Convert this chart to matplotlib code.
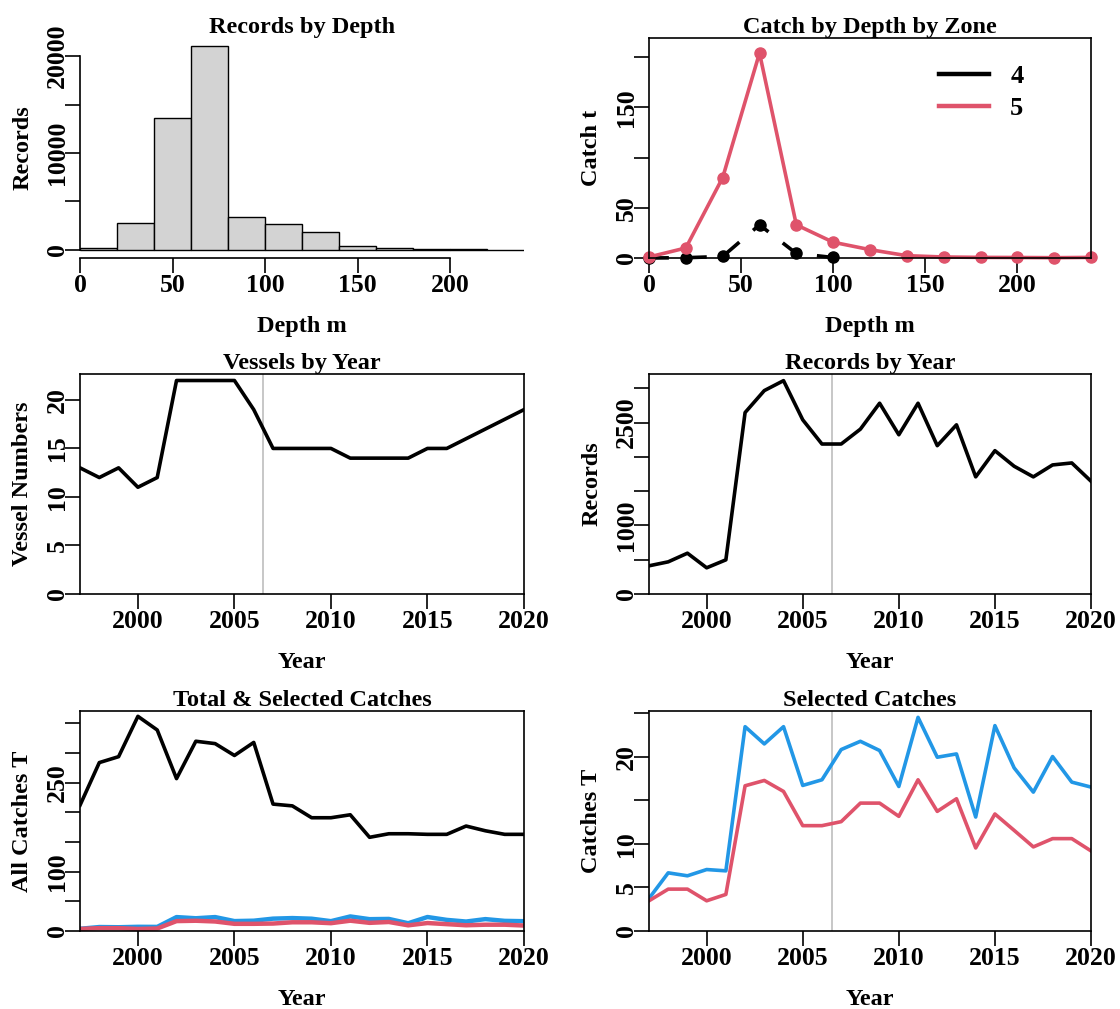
import matplotlib
matplotlib.use("Agg")
import matplotlib.pyplot as plt
from matplotlib.lines import Line2D
import numpy as np

plt.rcParams['font.family'] = ['Liberation Serif', 'DejaVu Serif']
plt.rcParams['font.weight'] = 'bold'

# ---------------- data ----------------
depth_breaks = [0, 20, 40, 60, 80, 100, 120, 140, 160, 180, 200, 220, 240]
depth_counts = [150, 2770, 13600, 21030, 3350, 2670, 1810, 440, 170, 120, 100, 0]

zone_depths = [0, 20, 40, 60, 80, 100, 120, 140, 160, 180, 200, 220, 240]
zone5_catch = [1.0, 10, 80, 204, 33, 15.7, 8.3, 2.3, 1.0, 0.6, 0.5, 0.3, 0.6]
zone4_depths = [0, 20, 40, 60, 80, 100]
zone4_catch = [0, 0.3, 1.5, 33, 4.5, 0.5]

years = list(range(1997, 2021))
vessels = [13, 12, 13, 11, 12, 22, 22, 22, 22, 19, 15, 15, 15, 15, 14, 14, 14, 14,
           15, 15, 16, 17, 18, 19]
records = [411, 469, 595, 382, 498, 2646, 2966, 3111, 2540, 2187, 2187, 2404, 2782,
           2322, 2782, 2163, 2467, 1708, 2090, 1863, 1708, 1882, 1911, 1645]
total_catch = [212, 284, 294, 362, 339, 257, 320, 316, 296, 318, 214, 211, 191, 191,
               196, 158, 164, 164, 163, 163, 177, 169, 163, 163]
sel_blue = [3.74, 6.68, 6.34, 7.06, 6.91, 23.47, 21.49, 23.47, 16.72, 17.37, 20.84,
            21.79, 20.73, 16.6, 24.54, 19.96, 20.34, 13.09, 23.59, 18.74, 15.95, 20.04,
            17.1, 16.53]
sel_red = [3.47, 4.81, 4.81, 3.47, 4.2, 16.68, 17.29, 16.03, 12.1, 12.1, 12.56, 14.69,
           14.69, 13.17, 17.37, 13.74, 15.19, 9.54, 13.44, 11.56, 9.66, 10.61, 10.61, 9.2]

year_ticks = [2000, 2005, 2010, 2015, 2020]
split_year = 2006.5

RED = '#DF536B'
BLUE = '#2297E6'
GREY = '#BEBEBE'

W, H = 1120, 1009
fig = plt.figure(figsize=(W / 100, H / 100), dpi=100)

TICK_FS = 18.5
LAB_FS = 17.5
TITLE_FS = 17.5
LW = 2.6
BOX_LW = 1.2


def make_ax(l, t, r, b):
    return fig.add_axes([l / W, 1 - b / H, (r - l) / W, (b - t) / H])


def style(ax, title, xlabel, ylabel, yticks, ylabels, xticks, xlabels=None):
    ax.set_title(title, fontsize=TITLE_FS, fontweight='bold', pad=1)
    ax.set_xlabel(xlabel, fontsize=LAB_FS, fontweight='bold', labelpad=14)
    ax.set_ylabel(ylabel, fontsize=LAB_FS, fontweight='bold', labelpad=9)
    ax.set_yticks(yticks)
    ax.set_yticklabels(ylabels)
    ax.set_xticks(xticks)
    ax.set_xticklabels(xlabels if xlabels is not None else [str(x) for x in xticks])
    ax.tick_params(axis='both', direction='out', length=11, width=BOX_LW,
                   labelsize=TICK_FS)
    ax.tick_params(axis='x', pad=0.5)
    ax.tick_params(axis='y', labelrotation=90, pad=-3)
    for lab in ax.get_yticklabels():
        lab.set_va('center')
        lab.set_fontweight('bold')
    for lab in ax.get_xticklabels():
        lab.set_fontweight('bold')
    for s in ax.spines.values():
        s.set_linewidth(BOX_LW)


cols = [(80, 524), (649, 1091)]
rows = [(38, 258), (374, 594), (711, 931)]

# ---- Panel 1: Records by Depth (histogram) ----
ax1 = make_ax(cols[0][0], rows[0][0], cols[0][1], rows[0][1])
widths = np.diff(depth_breaks)
ax1.bar(depth_breaks[:-1], depth_counts, width=widths, align='edge',
        facecolor='#D3D3D3', edgecolor='black', linewidth=1.0)
mx = max(depth_counts)
ax1.set_xlim(0, 240)
ax1.set_ylim(-0.04 * mx, 1.04 * mx)
style(ax1, 'Records by Depth', 'Depth m', 'Records',
      [0, 5000, 10000, 15000, 20000], ['0', '', '10000', '', '20000'],
      [0, 50, 100, 150, 200])
ax1.spines['top'].set_visible(False)
ax1.spines['right'].set_visible(False)
ax1.spines['left'].set_bounds(0, 20000)
ax1.spines['bottom'].set_bounds(0, 200)

# ---- Panel 2: Catch by Depth by Zone ----
ax2 = make_ax(cols[1][0], rows[0][0], cols[1][1], rows[0][1])
ax2.plot(zone4_depths, zone4_catch, color='black', lw=LW, dashes=(5.5, 5),
         marker='o', ms=8, clip_on=False)
ax2.plot(zone_depths, zone5_catch, color=RED, lw=LW, marker='o', ms=8,
         clip_on=False)
ax2.set_xlim(0, 240)
ax2.set_ylim(0, 219)
style(ax2, 'Catch by Depth by Zone', 'Depth m', 'Catch t',
      [0, 50, 100, 150, 200], ['0', '50', '', '150', ''],
      [0, 50, 100, 150, 200])
handles = [Line2D([], [], color='black', lw=3.2), Line2D([], [], color=RED, lw=3.2)]
leg = ax2.legend(handles, ['4', '5'], loc='upper left', frameon=False,
                 fontsize=19, handlelength=1.9, borderpad=0, borderaxespad=0,
                 bbox_to_anchor=((939 - 649) / 442, (258 - 65) / 220),
                 labelspacing=0.32, handletextpad=0.8)
for t in leg.get_texts():
    t.set_fontweight('bold')

# ---- Panel 3: Vessels by Year ----
ax3 = make_ax(cols[0][0], rows[1][0], cols[0][1], rows[1][1])
ax3.axvline(split_year, color=GREY, lw=1.2)
ax3.plot(years, vessels, color='black', lw=LW)
ax3.set_xlim(1997, 2020)
ax3.set_ylim(0, 22.67)
style(ax3, 'Vessels by Year', 'Year', 'Vessel Numbers',
      [0, 5, 10, 15, 20], ['0', '5', '10', '15', '20'], year_ticks)

# ---- Panel 4: Records by Year ----
ax4 = make_ax(cols[1][0], rows[1][0], cols[1][1], rows[1][1])
ax4.axvline(split_year, color=GREY, lw=1.2)
ax4.plot(years, records, color='black', lw=LW)
ax4.set_xlim(1997, 2020)
ax4.set_ylim(0, 3208)
style(ax4, 'Records by Year', 'Year', 'Records',
      [0, 500, 1000, 1500, 2000, 2500, 3000],
      ['0', '', '1000', '', '', '2500', ''], year_ticks)

# ---- Panel 5: Total & Selected Catches ----
ax5 = make_ax(cols[0][0], rows[2][0], cols[0][1], rows[2][1])
ax5.plot(years, total_catch, color='black', lw=LW)
ax5.plot(years, sel_blue, color=BLUE, lw=LW + 0.6)
ax5.plot(years, sel_red, color=RED, lw=LW + 0.6)
ax5.set_xlim(1997, 2020)
ax5.set_ylim(0, 371)
style(ax5, 'Total & Selected Catches', 'Year', 'All Catches T',
      [0, 50, 100, 150, 200, 250, 300, 350],
      ['0', '', '100', '', '', '250', '', ''], year_ticks)

# ---- Panel 6: Selected Catches ----
ax6 = make_ax(cols[1][0], rows[2][0], cols[1][1], rows[2][1])
ax6.axvline(split_year, color=GREY, lw=1.2)
ax6.plot(years, sel_blue, color=BLUE, lw=LW)
ax6.plot(years, sel_red, color=RED, lw=LW)
ax6.set_xlim(1997, 2020)
ax6.set_ylim(0, 25.27)
style(ax6, 'Selected Catches', 'Year', 'Catches T',
      [0, 5, 10, 15, 20, 25], ['0', '5', '10', '', '20', ''], year_ticks)

fig.savefig('out.png', dpi=100)
